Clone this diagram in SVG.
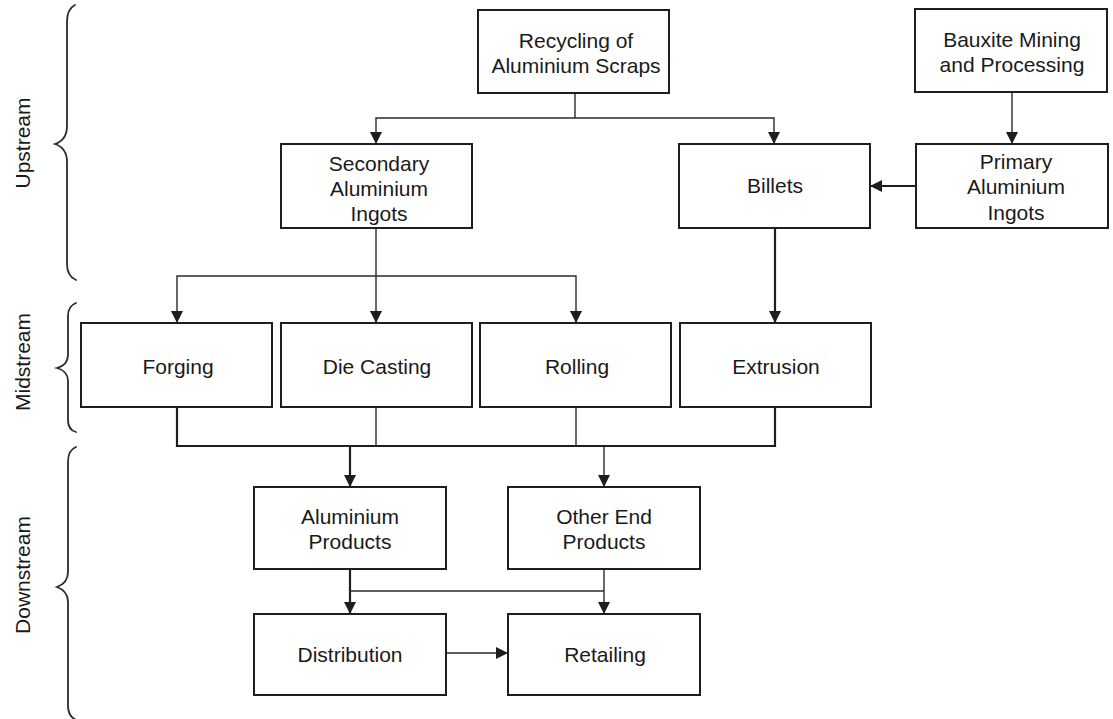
<svg xmlns="http://www.w3.org/2000/svg" width="1113" height="719" viewBox="0 0 1113 719">
  <style>
    .box { fill: #ffffff; stroke: #1e1e1e; stroke-width: 2; }
    .lbl { font-family: "Liberation Sans", Arial, Helvetica, sans-serif; font-size: 21px; fill: #1a1a1a; text-anchor: middle; }
    .stage { font-family: "Liberation Sans", Arial, Helvetica, sans-serif; font-size: 21px; fill: #1a1a1a; text-anchor: middle; }
    .ln { fill: none; stroke: #2a2a2a; stroke-width: 1.4; }
    .ln-b { fill: none; stroke: #1e1e1e; stroke-width: 2.2; }
    .brace { fill: none; stroke: #2a2a2a; stroke-width: 1.8; stroke-linecap: round; }
  </style>
  <defs>
    <marker id="arrow" viewBox="0 0 10 10" refX="10" refY="5" markerWidth="12" markerHeight="12" markerUnits="userSpaceOnUse" orient="auto">
      <path d="M0,0 L10,5 L0,10 Z" fill="#1e1e1e"/>
    </marker>
  </defs>
  <rect width="1113" height="719" fill="#ffffff"/>

  <!-- stage braces and labels -->
  <g id="stage-upstream">
    <path class="brace" d="M75,5 Q67,9 67,22 L67,126 Q67,140 55,144 Q67,148 67,162 L67,264 Q67,276 76,280"/>
    <text class="stage" transform="translate(30,143) rotate(-90)">Upstream</text>
  </g>
  <g id="stage-midstream">
    <path class="brace" d="M76,303 Q68,306 68,316 L68,355 Q68,365 57,368 Q68,371 68,381 L68,420 Q68,430 76,432"/>
    <text class="stage" transform="translate(30,362) rotate(-90)">Midstream</text>
  </g>
  <g id="stage-downstream">
    <path class="brace" d="M76,447 Q68,450 68,462 L68,572 Q68,583 57,587 Q68,591 68,602 L68,706 Q68,716 76,720"/>
    <text class="stage" transform="translate(30,575) rotate(-90)">Downstream</text>
  </g>

  <!-- connectors -->
  <g id="connectors">
    <!-- recycling splits to secondary ingots and billets -->
    <path class="ln" d="M575,93 L575,118"/>
    <path class="ln" d="M575,118 L376,118 L376,144" marker-end="url(#arrow)"/>
    <path class="ln" d="M575,118 L774,118 L774,144" marker-end="url(#arrow)"/>
    <!-- bauxite to primary ingots -->
    <path class="ln" d="M1012,92 L1012,144" marker-end="url(#arrow)"/>
    <!-- primary ingots to billets -->
    <path class="ln-b" d="M916,186 L870,186" marker-end="url(#arrow)"/>
    <!-- billets to extrusion -->
    <path class="ln-b" d="M775,228 L775,323" marker-end="url(#arrow)"/>
    <!-- secondary ingots fan out to forging, die casting, rolling -->
    <path class="ln" d="M376,228 L376,323" marker-end="url(#arrow)"/>
    <path class="ln" d="M376,276 L177,276 L177,323" marker-end="url(#arrow)"/>
    <path class="ln" d="M376,276 L576,276 L576,323" marker-end="url(#arrow)"/>
    <!-- midstream collector bus -->
    <path class="ln-b" d="M177,407 L177,446 L775,446 L775,407"/>
    <path class="ln" d="M376,407 L376,446"/>
    <path class="ln" d="M576,407 L576,446"/>
    <path class="ln-b" d="M350,446 L350,487" marker-end="url(#arrow)"/>
    <path class="ln" d="M604,446 L604,487" marker-end="url(#arrow)"/>
    <!-- products to distribution and retailing -->
    <path class="ln-b" d="M350,569 L350,614" marker-end="url(#arrow)"/>
    <path class="ln" d="M350,591 L604,591"/>
    <path class="ln" d="M604,569 L604,614" marker-end="url(#arrow)"/>
    <!-- distribution to retailing -->
    <path class="ln" d="M446,653 L508,653" marker-end="url(#arrow)"/>
  </g>

  <!-- upstream nodes -->
  <g id="recycling">
    <rect class="box" x="478" y="10" width="191" height="83"/>
    <text class="lbl" x="576" y="48">Recycling of</text>
    <text class="lbl" x="576" y="73">Aluminium Scraps</text>
  </g>
  <g id="bauxite">
    <rect class="box" x="915" y="9" width="192" height="83"/>
    <text class="lbl" x="1012" y="47">Bauxite Mining</text>
    <text class="lbl" x="1012" y="72">and Processing</text>
  </g>
  <g id="secondary-ingots">
    <rect class="box" x="281" y="144" width="191" height="84"/>
    <text class="lbl" x="379" y="171">Secondary</text>
    <text class="lbl" x="379" y="196">Aluminium</text>
    <text class="lbl" x="379" y="221">Ingots</text>
  </g>
  <g id="billets">
    <rect class="box" x="679" y="144" width="191" height="84"/>
    <text class="lbl" x="775" y="193">Billets</text>
  </g>
  <g id="primary-ingots">
    <rect class="box" x="916" y="144" width="192" height="84"/>
    <text class="lbl" x="1016" y="169">Primary</text>
    <text class="lbl" x="1016" y="194">Aluminium</text>
    <text class="lbl" x="1016" y="220">Ingots</text>
  </g>

  <!-- midstream nodes -->
  <g id="forging">
    <rect class="box" x="81" y="323" width="191" height="84"/>
    <text class="lbl" x="178" y="374">Forging</text>
  </g>
  <g id="die-casting">
    <rect class="box" x="281" y="323" width="191" height="84"/>
    <text class="lbl" x="377" y="374">Die Casting</text>
  </g>
  <g id="rolling">
    <rect class="box" x="480" y="323" width="191" height="84"/>
    <text class="lbl" x="577" y="374">Rolling</text>
  </g>
  <g id="extrusion">
    <rect class="box" x="680" y="323" width="191" height="84"/>
    <text class="lbl" x="776" y="374">Extrusion</text>
  </g>

  <!-- downstream nodes -->
  <g id="aluminium-products">
    <rect class="box" x="254" y="487" width="192" height="82"/>
    <text class="lbl" x="350" y="524">Aluminium</text>
    <text class="lbl" x="350" y="549">Products</text>
  </g>
  <g id="other-end-products">
    <rect class="box" x="508" y="487" width="192" height="82"/>
    <text class="lbl" x="604" y="524">Other End</text>
    <text class="lbl" x="604" y="549">Products</text>
  </g>
  <g id="distribution">
    <rect class="box" x="254" y="614" width="192" height="81"/>
    <text class="lbl" x="350" y="662">Distribution</text>
  </g>
  <g id="retailing">
    <rect class="box" x="508" y="614" width="192" height="81"/>
    <text class="lbl" x="605" y="662">Retailing</text>
  </g>
</svg>
